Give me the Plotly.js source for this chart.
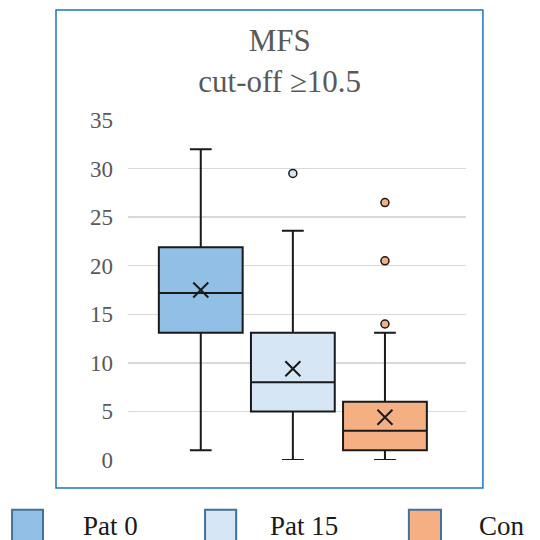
<!DOCTYPE html>
<html>
<head>
<meta charset="utf-8">
<script src="https://cdn.plot.ly/plotly-3.0.1.min.js"></script>
<style>html,body{margin:0;padding:0;background:#fff;}#chart{width:540px;height:540px;}</style>
</head>
<body>
<div id="chart"></div>
<script>
// Data
const groups = ['Pat 0', 'Pat 15', 'Con'];
const lowerWhisker = [1, 0, 0];
const q1Values = [13.1, 5, 1];
const medianValues = [17.2, 8, 3];
const q3Values = [21.9, 13.1, 6];
const upperWhisker = [32, 23.6, 13.1];
const meanValues = [17.5, 9.4, 4.4];
const outlierGroups = ['Pat 15', 'Con', 'Con', 'Con'];
const outlierValues = [29.5, 26.5, 20.5, 14];
const yTicks = [0, 5, 10, 15, 20, 25, 30, 35];

// Styles
const fills = ['#92bfe6', '#d7e6f5', '#f4b083'];
const outlineColor = '#1a1a1a';
const serif = '"Liberation Serif", "Times New Roman", serif';

const traces = [];
groups.forEach((g, i) => {
  traces.push({
    type: 'box',
    name: g,
    x: [g],
    q1: [q1Values[i]],
    median: [medianValues[i]],
    q3: [q3Values[i]],
    lowerfence: [lowerWhisker[i]],
    upperfence: [upperWhisker[i]],
    boxpoints: false,
    width: 0.91,
    whiskerwidth: 0.26,
    fillcolor: fills[i],
    line: {color: outlineColor, width: 2},
    showlegend: false,
    hoverinfo: 'skip'
  });
});

traces.push({
  type: 'scatter', mode: 'markers',
  x: groups, y: meanValues,
  marker: {symbol: 'x-thin-open', size: 15, line: {color: outlineColor, width: 2}, color: outlineColor},
  showlegend: false, hoverinfo: 'skip', cliponaxis: false
});

const outColors = outlierGroups.map(g => fills[groups.indexOf(g)]);
traces.push({
  type: 'scatter', mode: 'markers',
  x: outlierGroups, y: outlierValues,
  marker: {symbol: 'circle', size: 8, color: outColors, line: {color: outlineColor, width: 1.5}},
  showlegend: false, hoverinfo: 'skip', cliponaxis: false
});

// Manual legend (shapes + annotations) in paper coords
const legendSquareX = [[-0.343, -0.2515], [0.228, 0.320], [0.831, 0.926]];
const legendTextX = [-0.138, 0.415, 1.0325];
const shapes = [{
  type: 'rect', xref: 'paper', yref: 'paper',
  x0: -0.213, x1: 1.050, y0: -0.0824, y1: 1.3235,
  line: {color: '#1a73c8', width: 1.5}, fillcolor: 'rgba(0,0,0,0)', layer: 'below'
}];
const annotations = [];
groups.forEach((g, i) => {
  shapes.push({
    type: 'rect', xref: 'paper', yref: 'paper',
    x0: legendSquareX[i][0], x1: legendSquareX[i][1], y0: -0.24, y1: -0.146,
    fillcolor: fills[i], line: {color: '#41719c', width: 2}
  });
  annotations.push({
    xref: 'paper', yref: 'paper', x: legendTextX[i], y: -0.193,
    xanchor: 'left', yanchor: 'middle', showarrow: false, text: g,
    font: {family: serif, size: 27, color: '#1a1a1a'}
  });
});

const layout = {
  width: 540, height: 540,
  margin: {l: 128, r: 74, t: 120, b: 80},
  paper_bgcolor: '#ffffff', plot_bgcolor: '#ffffff',
  title: {
    text: 'MFS<br>cut-off ≥10.5',
    x: 0.518, xanchor: 'center', xref: 'container',
    y: 0.905, yanchor: 'top', yref: 'container',
    font: {family: serif, size: 31, color: '#595959'}
  },
  xaxis: {
    type: 'category', categoryorder: 'array', categoryarray: groups,
    range: [-0.79, 2.88], showticklabels: false, showgrid: false,
    zeroline: false, showline: false, ticks: '', fixedrange: true
  },
  yaxis: {
    range: [0, 35], tickvals: yTicks, ticktext: yTicks.map(String),
    showgrid: true, gridcolor: '#d9d9d9', gridwidth: 1.5,
    zeroline: false, showline: false, ticks: '',
    ticklabelstandoff: 14,
    tickfont: {family: serif, size: 23, color: '#595959'}
  },
  shapes: shapes,
  annotations: annotations,
  showlegend: false
};

Plotly.newPlot('chart', traces, layout, {staticPlot: true, displayModeBar: false});
</script>
</body>
</html>
